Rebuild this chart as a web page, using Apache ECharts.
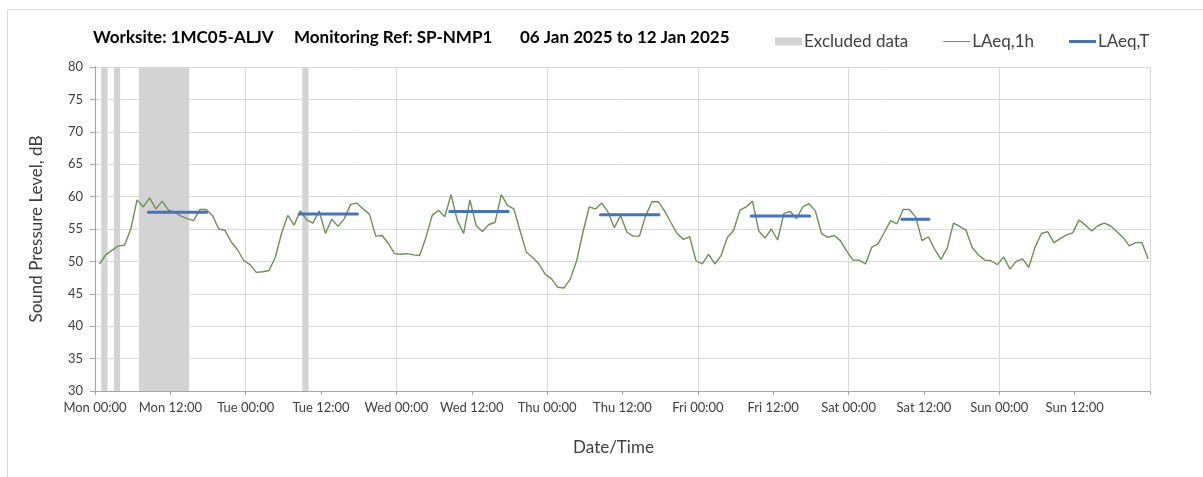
<!DOCTYPE html>
<html>
<head>
<meta charset="utf-8">
<script src="https://cdn.jsdelivr.net/npm/echarts@6/dist/echarts.min.js"></script>
<style>
  html, body { margin: 0; padding: 0; background: #fff; }
  #chart { width: 1203px; height: 477px; }
</style>
</head>
<body>
<div id="chart"></div>
<script>
// Hourly LAeq,1h readings, Mon 00:00 .. Sun 23:00 (168 values)
const hourlyLevels = [
  49.6, 51.0, 51.7, 52.4, 52.5, 55.0, 59.5, 58.4, 59.8, 58.1,
  59.3, 57.9, 57.6, 57.0, 56.6, 56.3, 58.0, 58.0, 57.1, 55.0,
  54.8, 53.0, 51.8, 50.1, 49.5, 48.3, 48.4, 48.6, 50.6, 54.3,
  57.1, 55.6, 57.8, 56.4, 55.9, 57.8, 54.3, 56.5, 55.4, 56.6,
  58.8, 59.0, 58.1, 57.3, 53.9, 54.0, 52.8, 51.2, 51.1, 51.2,
  51.0, 50.9, 53.7, 57.1, 57.9, 56.9, 60.3, 56.3, 54.3, 59.5,
  55.5, 54.6, 55.7, 56.0, 60.3, 58.6, 58.1, 54.7, 51.4, 50.6,
  49.6, 48.0, 47.3, 46.0, 45.9, 47.3, 50.1, 54.5, 58.4, 58.1,
  59.0, 57.6, 55.2, 57.1, 54.5, 53.9, 53.9, 57.1, 59.2, 59.2,
  57.8, 56.0, 54.3, 53.4, 53.8, 50.1, 49.6, 51.1, 49.6, 50.9,
  53.7, 54.8, 57.9, 58.4, 59.3, 54.7, 53.6, 55.0, 53.3, 57.4,
  57.7, 56.6, 58.4, 58.9, 57.8, 54.3, 53.7, 54.0, 53.2, 51.6,
  50.2, 50.2, 49.6, 52.2, 52.7, 54.5, 56.3, 55.8, 58.0, 58.0,
  56.8, 53.2, 53.8, 51.9, 50.3, 52.0, 55.9, 55.4, 54.8, 52.1,
  51.0, 50.2, 50.1, 49.5, 50.7, 48.8, 50.0, 50.4, 49.1, 52.2,
  54.3, 54.6, 52.9, 53.5, 54.1, 54.4, 56.4, 55.6, 54.7, 55.5,
  55.9, 55.5, 54.6, 53.7, 52.4, 52.9, 52.9, 50.4
]
// first reading sits a little after Mon 00:00 on the plot (hours)
const firstReadingHour = 0.7

// LAeq,T over each working period: [start hour, end hour, level]
const periodStart = [8.5, 32.5, 56.5, 80.5, 104.5, 128.5]
const periodEnd   = [17.8, 41.8, 65.8, 89.8, 113.8, 132.8]
const periodLevel = [57.6, 57.3, 57.7, 57.2, 57.0, 56.5]

// excluded-data windows, hours from Mon 00:00
const excludedStart = [1, 3, 7, 33]
const excludedEnd   = [2, 4, 15, 34]

const dayNames = ['Mon', 'Tue', 'Wed', 'Thu', 'Fri', 'Sat', 'Sun']
const titleParts = ['Worksite: 1MC05-ALJV', 'Monitoring Ref: SP-NMP1', '06 Jan 2025 to 12 Jan 2025']

const FONT = 'Lato, "Open Sans", sans-serif'
const TEXT = '#404040'

const lineData = hourlyLevels.map(function (v, i) { return [firstReadingHour + i, v] })

// blue segments, separated by gaps
const periodData = []
periodStart.forEach(function (s, i) {
  periodData.push([s, periodLevel[i]], [periodEnd[i], periodLevel[i]], ['-', '-'])
})

const excludedData = excludedStart.map(function (s, i) { return [s, excludedEnd[i]] })

const titleLeft = [93, 294, 520]
const titleStyle = { fontFamily: FONT, fontSize: 17, fontWeight: 'bold', color: '#000' }

const chart = echarts.init(document.getElementById('chart'), null, { renderer: 'canvas' })
chart.setOption({
  backgroundColor: '#ffffff',
  animation: false,
  title: titleParts.map(function (t, i) {
    return { text: t, left: titleLeft[i], top: 29, padding: 0, textStyle: titleStyle }
  }),
  legend: {
    left: 775, top: 33, padding: 0,
    itemWidth: 27, itemHeight: 8, itemGap: 35,
    textStyle: { fontFamily: FONT, fontSize: 17, color: TEXT, padding: [0, 0, 0, -3] },
    data: [
      { name: 'Excluded data', icon: 'rect', itemStyle: { color: '#d3d3d3' } },
      { name: 'LAeq,1h', icon: 'path://M0,0H27V1H0Z', itemStyle: { color: '#6e8f56', borderWidth: 0 } },
      { name: 'LAeq,T', icon: 'path://M0,0H27V3H0Z', itemStyle: { color: '#4472c4', borderWidth: 0 } }
    ]
  },
  graphic: [{
    type: 'rect', left: 5, top: 7, silent: true,
    shape: { width: 1300, height: 600 },
    style: { fill: 'none', stroke: '#d9d9d9', lineWidth: 1 }
  }],
  grid: { left: 95, right: 53, top: 67, bottom: 86 },
  xAxis: [{
    type: 'value', min: 0, max: 168, interval: 12,
    name: 'Date/Time', nameLocation: 'middle', nameGap: 48,
    nameTextStyle: { fontFamily: FONT, fontSize: 17, color: TEXT, padding: [0, 18, 0, 0] },
    axisLine: { show: true, lineStyle: { color: '#a6a6a6', width: 1 } },
    axisTick: { show: true, inside: false, length: 4, lineStyle: { color: '#a6a6a6' } },
    axisLabel: {
      fontFamily: FONT, fontSize: 13, color: TEXT, margin: 10,
      formatter: function (v) {
        if (v >= 168) return ''
        const d = Math.floor(v / 24)
        const h = v % 24
        return dayNames[d] + ' ' + (h < 10 ? '0' : '') + h + ':00'
      }
    },
    splitLine: { show: false }
  }, {
    // daily vertical gridlines only
    type: 'value', min: 0, max: 168, interval: 24, position: 'bottom',
    axisLine: { show: false }, axisTick: { show: false }, axisLabel: { show: false },
    splitLine: { show: true, lineStyle: { color: '#d9d9d9', width: 1 } }
  }],
  yAxis: [{
    type: 'value', min: 30, max: 80, interval: 5,
    name: 'Sound Pressure Level, dB', nameLocation: 'middle', nameGap: 50,
    nameTextStyle: { fontFamily: FONT, fontSize: 17, color: TEXT },
    axisLine: { show: true, lineStyle: { color: '#a6a6a6', width: 1 } },
    axisTick: { show: true, length: 5, lineStyle: { color: '#a6a6a6' } },
    axisLabel: { fontFamily: FONT, fontSize: 13, color: TEXT, margin: 12 },
    splitLine: { show: true, lineStyle: { color: '#d9d9d9', width: 1 } }
  }, {
    // right-hand frame line
    type: 'value', min: 30, max: 80, interval: 5, position: 'right',
    axisLine: { show: true, lineStyle: { color: '#a6a6a6', width: 1 } },
    axisTick: { show: false }, axisLabel: { show: false }, splitLine: { show: false }
  }],
  series: [{
    name: 'Excluded data',
    type: 'custom',
    xAxisIndex: 0, yAxisIndex: 0,
    encode: { x: [0, 1] },
    itemStyle: { color: '#d3d3d3' },
    renderItem: function (params, api) {
      const a = api.coord([api.value(0), 80])
      const b = api.coord([api.value(1), 30])
      return {
        type: 'rect',
        shape: { x: a[0], y: a[1], width: b[0] - a[0], height: b[1] - a[1] },
        style: api.style()
      }
    },
    data: excludedData
  }, {
    name: 'LAeq,1h',
    type: 'line',
    showSymbol: false,
    symbol: 'none',
    color: '#6e8f56',
    lineStyle: { color: '#6e8f56', width: 1.4 },
    data: lineData,
    z: 3
  }, {
    name: 'LAeq,T',
    type: 'line',
    showSymbol: false,
    symbol: 'none',
    connectNulls: false,
    color: '#4472c4',
    lineStyle: { color: '#4472c4', width: 3, cap: 'round' },
    data: periodData,
    z: 4
  }]
})
</script>
</body>
</html>
